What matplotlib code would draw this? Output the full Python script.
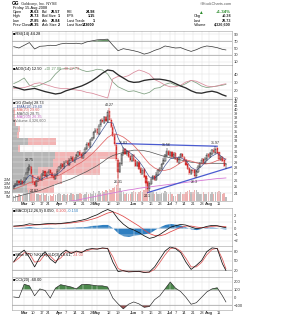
import matplotlib
matplotlib.use("Agg")
import matplotlib.pyplot as plt
import numpy as np
import pandas as pd

plt.rcParams['font.family'] = ['Liberation Sans', 'DejaVu Sans']

# -----------------------------
# Data
# -----------------------------
HOLIDAYS = ['2008-03-21', '2008-05-26', '2008-07-04']

OPEN = [24.8, 25.1, 25.3, 25.9, 25.4, 25.9, 25.5, 26.3, 27.1, 27.8, 28.2, 26.8, 25.7, 25.1, 25.9, 26.4,
        26.1, 26.8, 27.4, 26.6, 27.1, 27.6, 27.2, 26.7, 26.2, 26.9, 27.6, 28.0, 28.6, 28.1, 29.0, 29.2,
        28.5, 29.5, 29.9, 29.1, 29.7, 30.1, 30.9, 30.4, 29.7, 30.7, 31.4, 32.5, 31.9, 33.2, 33.5, 34.9,
        35.4, 34.5, 36.3, 37.5, 36.9, 38.2, 37.1, 39.6, 37.4, 35.9, 34.3, 32.1, 29.4, 27.4, 28.7, 30.5,
        31.4, 30.4, 31.0, 30.1, 29.3, 30.2, 29.4, 28.3, 29.1, 28.0, 27.0, 27.8, 26.6, 25.7, 24.6, 25.4,
        26.2, 26.7, 26.1, 26.9, 27.5, 27.8, 28.7, 29.3, 30.1, 31.1, 30.2, 30.9, 29.9, 30.6, 29.7, 28.9,
        29.9, 30.5, 30.0, 29.3, 28.6, 27.9, 27.0, 27.7, 27.6, 26.6, 27.3, 28.1, 28.9, 29.5, 28.8, 29.5,
        30.4, 29.9, 30.5, 31.3, 30.7, 31.6, 30.8, 29.4, 30.0, 29.3, 28.63]
HIGH = [25.3, 25.6, 26.1, 26.0, 26.2, 26.0, 26.5, 27.3, 28.2, 28.75, 28.4, 26.9, 25.9, 26.1, 26.6, 26.6,
        27.2, 27.6, 27.5, 27.3, 27.8, 27.8, 27.4, 26.9, 27.1, 27.8, 28.4, 28.8, 28.9, 29.2, 29.4, 29.4,
        29.7, 30.1, 30.1, 29.9, 30.5, 31.1, 31.2, 30.6, 30.9, 31.8, 32.7, 32.8, 33.4, 33.9, 35.1, 35.7,
        35.7, 36.5, 37.8, 37.9, 38.5, 38.5, 39.8, 40.27, 37.9, 36.3, 34.6, 32.5, 29.8, 29.1, 30.7, 31.83,
        31.6, 31.2, 31.3, 30.4, 30.4, 30.5, 29.6, 29.3, 29.3, 28.2, 28.0, 28.0, 26.9, 25.9, 25.8, 26.4,
        26.9, 26.9, 27.3, 27.9, 28.2, 28.9, 29.7, 30.5, 31.56, 31.3, 31.1, 31.1, 30.8, 30.8, 29.9, 30.1,
        30.7, 30.7, 30.2, 29.5, 28.8, 28.1, 27.9, 27.9, 27.8, 27.7, 28.5, 29.1, 29.7, 29.7, 29.9, 30.6,
        30.6, 30.9, 31.5, 31.6, 31.97, 31.8, 30.9, 30.2, 30.2, 29.5, 28.73]
LOW = [24.6, 24.9, 25.2, 25.3, 25.2, 25.2, 25.3, 26.1, 26.9, 27.5, 26.8, 25.3, 24.87, 24.9, 25.7, 25.8,
       25.9, 26.6, 26.5, 26.4, 26.9, 26.9, 26.4, 26.0, 26.0, 26.7, 27.4, 27.8, 27.9, 27.9, 28.8, 28.4,
       28.3, 29.3, 29.0, 28.9, 29.5, 29.9, 30.1, 29.6, 29.5, 30.5, 31.2, 31.7, 31.7, 33.0, 33.3, 34.6,
       34.3, 34.3, 36.0, 36.7, 36.6, 37.0, 36.9, 37.4, 35.8, 33.8, 32.0, 29.3, 26.31, 27.1, 28.4, 30.2,
       30.3, 30.1, 29.8, 29.1, 29.1, 29.1, 28.2, 28.1, 27.7, 26.9, 26.8, 26.3, 25.4, 24.1, 24.4, 25.2,
       26.0, 25.8, 25.9, 26.7, 27.3, 27.6, 28.5, 29.1, 29.9, 30.1, 30.0, 29.8, 29.7, 29.4, 28.8, 28.7,
       29.7, 29.7, 29.0, 28.3, 27.6, 26.9, 26.8, 27.2, 26.3, 26.4, 27.1, 28.0, 28.7, 28.7, 28.6, 29.3,
       29.8, 29.7, 30.3, 30.6, 30.5, 30.5, 29.3, 29.2, 29.0, 28.1, 27.85]
CLOSE = [25.0, 25.3, 25.8, 25.5, 25.9, 25.4, 26.2, 27.0, 27.9, 28.3, 27.0, 25.6, 25.2, 25.8, 26.3, 26.0,
         26.9, 27.3, 26.7, 27.0, 27.5, 27.1, 26.6, 26.3, 26.8, 27.5, 28.1, 28.5, 28.2, 28.9, 29.1, 28.6,
         29.4, 29.8, 29.2, 29.6, 30.2, 30.8, 30.3, 29.8, 30.6, 31.5, 32.4, 32.0, 33.1, 33.6, 34.8, 35.3,
         34.6, 36.2, 37.4, 37.0, 38.1, 37.2, 39.4, 37.6, 36.0, 34.1, 32.3, 29.6, 27.3, 28.8, 30.4, 31.3,
         30.5, 30.9, 30.0, 29.4, 30.1, 29.3, 28.4, 29.0, 27.9, 27.1, 27.7, 26.5, 25.6, 24.7, 25.5, 26.1,
         26.6, 26.0, 27.0, 27.6, 27.9, 28.6, 29.4, 30.2, 31.0, 30.3, 30.8, 30.0, 30.5, 29.6, 29.0, 29.8,
         30.4, 29.9, 29.2, 28.5, 27.8, 27.1, 27.6, 27.5, 26.7, 27.4, 28.2, 28.8, 29.4, 28.9, 29.6, 30.3,
         30.0, 30.6, 31.2, 30.8, 31.5, 30.7, 29.5, 29.9, 29.2, 28.35, 28.73]
VOLUME = [6, 7, 6, 8, 7, 6, 9, 10, 12, 13, 12, 11, 9,
          8, 8, 7, 8, 9, 7, 8, 6, 7, 6, 8, 7, 8,
          9, 8, 7, 8, 7, 8, 7, 9, 8, 7, 8, 8, 9, 8, 7,
          8, 10, 8, 9, 8, 11, 9, 8, 11, 9, 11, 10, 12, 11, 14,
          13, 15, 16, 18, 33, 15, 11, 10, 8, 9, 8, 8, 10, 11, 10,
          8, 10, 11, 10, 13, 22, 26, 13, 11, 10, 8, 10, 8, 8, 9,
          9, 11, 10, 8, 10, 8, 6, 6, 8, 8, 10, 8, 8, 10, 11,
          12, 10, 10, 13, 12, 10, 8, 8, 10, 8, 8, 10, 8, 10, 8,
          10, 10, 11, 10, 8, 9, 4.3266]  # millions

# labelled swing points (day index)
PEAK_DAYS = [9, 55, 63, 88, 116]
TROUGH_DAYS = [12, 60, 77, 104]
# trendline anchors (day index)
UPPER_TREND = (59, 116)
LOWER_TREND = (77, 104)

# volume by price
ZONE_EDGES = [24.10, 25.45, 26.80, 28.14, 29.49, 30.84, 32.19, 33.53, 34.88, 36.23, 37.58, 38.92, 40.27]
VBP_UP = [30, 40, 52, 82, 86, 12, 32, 10, 12, 6, 4, 4]
VBP_DOWN = [54, 60, 124, 94, 124, 4, 56, 4, 4, 2, 2, 2]

# indicators, read every third session
SAMPLE_DAYS = list(range(0, 121, 3)) + [122]
EMA10 = [25.0, 25.3, 25.7, 26.8, 26.4, 26.0, 26.5, 26.9, 26.8, 27.4, 28.3, 29.0, 29.5, 30.0, 30.9, 32.0,
         33.6, 35.3, 37.0, 36.8, 33.6, 31.6, 30.9, 30.2, 29.2, 27.9, 26.5, 26.3, 27.0, 28.4, 29.6, 29.9,
         29.8, 29.3, 28.1, 27.6, 28.3, 29.3, 30.1, 30.6, 29.9, 29.4]
MA20 = [24.6, 24.9, 25.2, 25.6, 25.8, 25.9, 26.2, 26.4, 26.6, 26.9, 27.4, 27.9, 28.5, 29.0, 29.7, 30.5,
        31.5, 32.6, 33.7, 34.4, 34.3, 33.8, 33.0, 32.1, 31.0, 29.8, 28.7, 28.0, 27.6, 27.6, 27.8, 28.3,
        28.9, 29.4, 29.2, 28.9, 28.7, 28.7, 28.9, 29.3, 29.6, 29.6]
MA50 = [23.4, 23.6, 23.8, 24.0, 24.2, 24.4, 24.7, 25.0, 25.3, 25.6, 25.9, 26.2, 26.6, 27.0, 27.4, 27.9,
        28.4, 29.0, 29.7, 30.2, 30.5, 30.8, 31.0, 31.2, 31.2, 31.1, 30.9, 30.6, 30.3, 30.0, 29.8, 29.6,
        29.4, 29.2, 29.0, 28.9, 28.8, 28.8, 28.8, 28.8, 28.8, 28.75]
MA200 = [21.6, 21.7, 21.8, 21.9, 22.0, 22.1, 22.2, 22.35, 22.5, 22.6, 22.75, 22.9, 23.0, 23.15, 23.3,
         23.45, 23.6, 23.75, 23.9, 24.05, 24.2, 24.35, 24.5, 24.6, 24.75, 24.85, 24.95, 25.05, 25.15,
         25.25, 25.35, 25.45, 25.55, 25.65, 25.75, 25.85, 25.95, 26.05, 26.15, 26.25, 26.3, 26.35]
RSI = [54, 50, 58, 66, 47, 55, 56, 58, 57, 62, 64, 63, 64, 62, 68, 71, 74, 75, 76, 58, 42, 48, 45, 42,
       38, 32, 36, 43, 48, 56, 53, 50, 51, 45, 40, 45, 52, 56, 54, 51, 46, 44.28]
ADX = [24, 22, 20, 21, 22, 20, 18, 16.5, 15, 16, 19, 21, 23, 25, 28, 31.5, 36, 41, 45, 44, 39, 35, 31,
       29.5, 30, 32, 33, 33.5, 33.5, 32.5, 31, 28, 25, 22.5, 19, 16.5, 16, 17.5, 18.5, 17, 14, 12.5]
PDI = [28, 31, 35, 26, 24, 26, 29, 32, 40, 46, 47, 46, 48, 45, 43, 44, 46, 45, 40, 30, 24, 21, 18, 19,
       17, 15, 17, 22, 23, 27, 29, 26, 25, 28, 32, 29, 25, 23, 24, 25, 26, 27]
MDI = [22, 22.5, 23, 25, 28, 29, 27, 25, 23, 22, 22, 21, 20, 19, 17, 16, 14, 12, 10, 34, 37, 36, 38, 42,
       45, 43, 40, 33, 30, 26, 24, 24, 26, 30, 32, 31, 28, 25, 24, 25, 27, 27.73]
MACD = [0.30, 0.35, 0.45, 0.65, 0.55, 0.55, 0.65, 0.70, 0.65, 0.70, 0.80, 0.90, 1.05, 1.20, 1.40, 1.75,
        2.05, 2.50, 2.85, 2.50, 1.40, 0.60, 0.00, -0.30, -0.70, -1.20, -1.60, -1.40, -1.00, -0.45, 0.10,
        0.35, 0.55, 0.45, 0.15, -0.10, 0.00, 0.25, 0.40, 0.35, 0.15, 0.05]
SIGNAL = [0.25, 0.28, 0.32, 0.40, 0.45, 0.50, 0.55, 0.60, 0.62, 0.65, 0.70, 0.78, 0.88, 1.00, 1.15, 1.35,
          1.60, 1.95, 2.30, 2.50, 2.20, 1.80, 1.30, 0.80, 0.30, -0.30, -0.85, -1.15, -1.20, -1.00, -0.60,
          -0.25, 0.10, 0.30, 0.30, 0.15, 0.05, 0.10, 0.25, 0.30, 0.25, 0.20]
HIST = [0.05, 0.07, 0.13, 0.25, 0.10, 0.05, 0.10, 0.10, 0.03, 0.05, 0.10, 0.12, 0.17, 0.20, 0.25, 0.40,
        0.45, 0.55, 0.55, 0.00, -0.80, -1.20, -1.30, -1.10, -1.00, -0.90, -0.75, -0.25, 0.20, 0.55, 0.70,
        0.60, 0.45, 0.15, -0.15, -0.25, -0.05, 0.15, 0.15, 0.05, -0.10, -0.15]
STOCH_K = [46, 70, 83, 60, 30, 60, 78, 55, 42, 70, 83, 72, 80, 75, 85, 88, 86, 90, 88, 45, 15, 18, 14,
           15, 16, 12, 14, 30, 55, 80, 93, 88, 75, 45, 22, 35, 50, 78, 90, 88, 40, 18.61]
STOCH_D = [45, 58, 75, 72, 45, 48, 70, 64, 48, 58, 77, 76, 77, 77, 81, 86, 87, 88, 89, 62, 25, 17, 16,
           15, 15, 14, 13, 22, 44, 68, 88, 90, 80, 57, 30, 30, 44, 68, 85, 89, 55, 24]
CCI = [5, -5, 170, 150, 20, 110, 90, -10, 120, 165, 150, 135, 110, 165, 170, 160, 150, 150, 135, -10,
       -85, -150, -90, -60, -85, -130, -120, -30, 20, 110, 200, 120, 75, 0, -90, -70, 0, 70, 110, 125,
       20, -60]

# -----------------------------
# Layout helpers (pixels)
# -----------------------------
W, H = 282, 320
LEFT, RIGHT = 12, 232
FS = 3.0
HFS = 2.7  # header table

days = pd.bdate_range('2008-02-22', '2008-08-15')
days = days[~days.isin(pd.to_datetime(HOLIDAYS))]
X = np.arange(len(days))
XMIN, XMAX = -1, len(days) + 2.5

O, Hi, Lo, C = map(np.array, (OPEN, HIGH, LOW, CLOSE))
prev_close = np.concatenate([[O[0]], C[:-1]])

# month names on the first session of each month, Mondays elsewhere
month_starts = [i for i in range(1, len(days)) if days[i].month != days[i - 1].month]
tick_pos, tick_lab, tick_month = [], [], []
for i, d in enumerate(days):
    if i in month_starts:
        tick_pos.append(i); tick_lab.append(d.strftime('%b')); tick_month.append(True)
    elif (d.weekday() == 0 and d.month != days[0].month
          and all(abs(i - m) > 2 for m in month_starts)):
        tick_pos.append(i); tick_lab.append(str(d.day)); tick_month.append(False)

fig = plt.figure(figsize=(W / 100, H / 100), dpi=100)


def rect(top, bottom):
    return [LEFT / W, 1 - bottom / H, (RIGHT - LEFT) / W, (bottom - top) / H]


def ftext(x, y, s, **kw):
    kw.setdefault('fontsize', FS)
    return fig.text(x / W, 1 - y / H, s, va='center', **kw)


def chain(ax, prev, s, color):
    return ax.annotate(s, xy=(1, 0.5), xycoords=prev, va='center', ha='left',
                       fontsize=2.8, color=color, annotation_clip=False)


def panel(top, bottom, ylim, yticks, zorder=3):
    ax = fig.add_axes(rect(top, bottom), zorder=zorder)
    ax.set_xlim(XMIN, XMAX)
    ax.set_ylim(*ylim)
    ax.set_xticks(tick_pos)
    ax.set_xticklabels([])
    ax.set_yticks(yticks)
    ax.yaxis.tick_right()
    ax.tick_params(length=0, labelsize=FS, pad=1.2, labelcolor='#333')
    ax.grid(True, color='#e2e2e2', lw=0.35)
    for s in ax.spines.values():
        s.set_color('#a0a0a0')
        s.set_linewidth(0.4)
    return ax


def date_labels(ax):
    ax.set_xticklabels(tick_lab)
    ax.tick_params(axis='x', labelsize=FS, pad=1)
    for lab, m in zip(ax.get_xticklabels(), tick_month):
        if m:
            lab.set_fontweight('bold')


# -----------------------------
# Header
# -----------------------------
ax_dummy = fig.add_axes([0, 0, 0.01, 0.01]); ax_dummy.axis('off')
t = ftext(12, 3.5, 'GG', fontweight='bold', fontsize=3.4)
chain(ax_dummy, t, ' Goldcorp, Inc. NYSE', '#222')
ftext(RIGHT, 4, '\u00a9StockCharts.com', ha='right', color='#555', fontsize=2.8)
ftext(13, 7.5, 'Friday 15-Aug-2008', fontsize=2.8)
rows = [
    ('Open', f'{OPEN[-1]:.2f}', 'Bid', '28.57', 'P/E', '24.98'),
    ('High', f'{HIGH[-1]:.2f}', 'Bid Size', '1', 'EPS', '1.15'),
    ('Low', f'{LOW[-1]:.2f}', 'Ask', '28.84', 'Last Trade', '1'),
    ('Prev Close', f'{CLOSE[-2]:.2f}', 'Ask Size', '2', 'Last Size', '143600'),
]
chg = CLOSE[-1] - CLOSE[-2]
right_rows = [('', f'{chg / CLOSE[-2] * 100:+.2f}%'), ('Chg', f'{chg:+.2f}'),
              ('Last', f'{CLOSE[-1]:.2f}'), ('Volume', f'{VOLUME[-1] * 1e6:,.0f}')]
for k, (a, av, b, bv, c, cv) in enumerate(rows):
    y = 12.3 + k * 4.1
    ftext(13, y, a, fontsize=HFS); ftext(39.5, y, av, ha='right', fontweight='bold', fontsize=HFS)
    ftext(42, y, b, fontsize=HFS); ftext(60, y, bv, ha='right', fontweight='bold', fontsize=HFS)
    ftext(67, y, c, fontsize=HFS); ftext(95, y, cv, ha='right', fontweight='bold', fontsize=HFS)
    lab, val = right_rows[k]
    ftext(194, y, lab, fontsize=HFS)
    ftext(231, y, val, ha='right', fontweight='bold', fontsize=HFS if k else 3.2,
          color='#2a8a2a' if k == 0 else '#222')
ftext(198, 12.3, '\u25b2', color='#2a8a2a', fontsize=3.4)

# -----------------------------
# RSI panel
# -----------------------------
ax = panel(31, 65, (0, 100), [10, 30, 50, 70, 90])
rsi = np.array(RSI, float)
ax.axhline(70, color='#909090', lw=0.4)
ax.axhline(30, color='#909090', lw=0.4)
ax.fill_between(SAMPLE_DAYS, rsi, 70, where=rsi > 70, interpolate=True, color='#3d7a3d', lw=0)
ax.plot(SAMPLE_DAYS, rsi, color='#333', lw=0.5)
ftext(13, 33.8, f'\u25a0RSI(14) {RSI[-1]:.2f}', fontsize=2.8)

# -----------------------------
# ADX panel
# -----------------------------
ax = panel(65, 99, (8.75, 51.25), [10, 20, 30, 40])
ax.plot(SAMPLE_DAYS, PDI, color='#7f9f80', lw=0.55)
ax.plot(SAMPLE_DAYS, MDI, color='#d98a9b', lw=0.55)
ax.plot(SAMPLE_DAYS, ADX, color='#2a2a2a', lw=0.95)
t = ftext(13, 69, f'\u25a0ADX(14) {ADX[-1]:.2f}', fontsize=2.8)
t = chain(ax, t, f'  +DI {PDI[-1]:.2f}', '#5f8f60')
chain(ax, t, f'  -DI {MDI[-1]:.2f}', '#d06070')

# -----------------------------
# Price panel with volume and volume-by-price
# -----------------------------
PTOP, PBOT = 99, 201
PLIM = (22.9, 42.6)

axb = fig.add_axes(rect(PTOP, PBOT), zorder=1)
axb.set_yscale('log')
axb.set_ylim(*PLIM)
axb.set_xlim(0, 440)
edges = np.array(ZONE_EDGES)
axb.barh(edges[:-1], VBP_UP, height=np.diff(edges), align='edge', color='#a9a9a9', alpha=0.85, lw=0)
axb.barh(edges[:-1], VBP_DOWN, left=VBP_UP, height=np.diff(edges), align='edge',
         color='#f2a7a7', alpha=0.85, lw=0)
axb.axis('off')

axv = fig.add_axes(rect(PTOP, PBOT), zorder=2)
axv.set_xlim(XMIN, XMAX)
axv.set_ylim(0, 116)
vol_col = np.where(C < prev_close, '#efb0b0', '#bcbcbc')
axv.bar(X, VOLUME, width=0.8, color=vol_col, lw=0)
axv.yaxis.tick_left()
axv.set_yticks([5, 10, 15, 20, 25], ['5M', '10M', '15M', '20M', '25M'])
axv.tick_params(length=0, labelsize=2.6, pad=0.8, labelcolor='#333')
axv.set_xticks([])
axv.patch.set_visible(False)
for s in axv.spines.values():
    s.set_visible(False)

ax = panel(PTOP, PBOT, PLIM, [], zorder=3)
ax.patch.set_visible(False)
ax.set_yscale('log')
ax.set_ylim(*PLIM)
pt = list(range(24, 43))
ax.set_yticks(pt, [str(p) for p in pt])
ax.yaxis.set_minor_locator(matplotlib.ticker.NullLocator())
ax.tick_params(length=0, labelsize=2.8, pad=1.2)

ax.plot(SAMPLE_DAYS, MA200, color='#d77ad7', lw=0.6)
ax.plot(SAMPLE_DAYS, MA50, color='#555555', lw=0.5)
ax.plot(SAMPLE_DAYS, MA20, color='#e06464', lw=0.55)
ax.plot(SAMPLE_DAYS, EMA10, color='#3b4f8f', lw=0.45)


def trend(pair, vals, x_end):
    d0, d1 = pair
    v0, v1 = np.log(vals[d0]), np.log(vals[d1])
    xs = np.array([d0, x_end])
    return xs, np.exp(v0 + (v1 - v0) * (xs - d0) / (d1 - d0))


xs, ys = trend(UPPER_TREND, Hi, UPPER_TREND[1] + 1)
ax.plot(xs, ys, color='#4a5bd0', lw=0.9)
xs, ys = trend(LOWER_TREND, Lo, XMAX)
ax.plot(xs, ys, color='#4a5bd0', lw=0.9)

col = np.where(C < prev_close, '#d42a2a', '#111111')
ax.vlines(X, Lo, Hi, colors=col, lw=0.35)
hollow = C >= O
face = np.where(hollow, 'white', col)
ax.bar(X, np.abs(C - O) + 0.02, bottom=np.minimum(O, C), width=0.72, color=face,
       edgecolor=col, lw=0.3)

for d in PEAK_DAYS:
    ax.annotate(str(HIGH[d]), (d, HIGH[d]), xytext=(0, 1.2), textcoords='offset points',
                ha='center', va='bottom', fontsize=2.6, color='#222')
for d in TROUGH_DAYS:
    ax.annotate(str(LOW[d]), (d, LOW[d]), xytext=(0, -1.2), textcoords='offset points',
                ha='center', va='top', fontsize=2.6, color='#222')
date_labels(ax)

legend = [('\u25a0GG (Daily) ' + f'{CLOSE[-1]:.2f}', '#111'),
          (f'\u2014EMA(10) {EMA10[-1]:.2f}', '#3b4f8f'),
          (f'\u2014MA(20) {MA20[-1]:.2f}', '#e06464'),
          (f'\u2014MA(50) {MA50[-1]:.2f}', '#555555'),
          (f'\u2014MA(200) {MA200[-1]:.2f}', '#c060c0'),
          (f'\u25a0Volume {VOLUME[-1] * 1e6:,.0f}', '#666')]
for k, (s, c) in enumerate(legend):
    ftext(13, 103 + k * 3.6, s, color=c, fontsize=2.7)

# -----------------------------
# MACD panel
# -----------------------------
ax = panel(208, 246, (-2.77, 3.08), [-2, -1, 0, 1, 2])
ax.fill_between(SAMPLE_DAYS, HIST, 0, color='#2f7fc1', lw=0)
ax.plot(SAMPLE_DAYS, SIGNAL, color='#e04848', lw=0.55)
ax.plot(SAMPLE_DAYS, MACD, color='#111', lw=0.55)
t = ftext(13, 211, f'\u25a0MACD(12,26,9) {MACD[-1]:.3f},', fontsize=2.8)
t = chain(ax, t, f' {SIGNAL[-1]:.3f},', '#e04848')
chain(ax, t, f' {HIST[-1]:.3f}', '#2f7fc1')

# -----------------------------
# Slow stochastics panel
# -----------------------------
ax = panel(246, 277, (-2, 96), [20, 50, 80])
ax.axhline(80, color='#909090', lw=0.4)
ax.axhline(20, color='#909090', lw=0.4)
ax.plot(SAMPLE_DAYS, STOCH_D, color='#e05a5a', lw=0.55)
ax.plot(SAMPLE_DAYS, STOCH_K, color='#111', lw=0.55)
t = ftext(13, 255, f'\u25a0Slow STO %K(14) %D(3) {STOCH_K[-1]:.2f},', fontsize=2.8)
chain(ax, t, f' {STOCH_D[-1]:.2f}', '#e05a5a')

# -----------------------------
# CCI panel
# -----------------------------
ax = panel(277, 310, (-165, 265), [-100, 0, 100, 200])
cci = np.array(CCI, float)
ax.axhline(100, color='#909090', lw=0.4)
ax.axhline(-100, color='#909090', lw=0.4)
ax.fill_between(SAMPLE_DAYS, cci, 100, where=cci > 100, interpolate=True, color='#4b874b', lw=0)
ax.fill_between(SAMPLE_DAYS, cci, -100, where=cci < -100, interpolate=True, color='#9c5050', lw=0)
ax.plot(SAMPLE_DAYS, cci, color='#222', lw=0.45)
ftext(13, 280.5, f'\u25a0CCI(20) {CCI[-1]:.2f}', fontsize=2.8)
date_labels(ax)

fig.savefig('out.png', dpi=100, facecolor='white')
